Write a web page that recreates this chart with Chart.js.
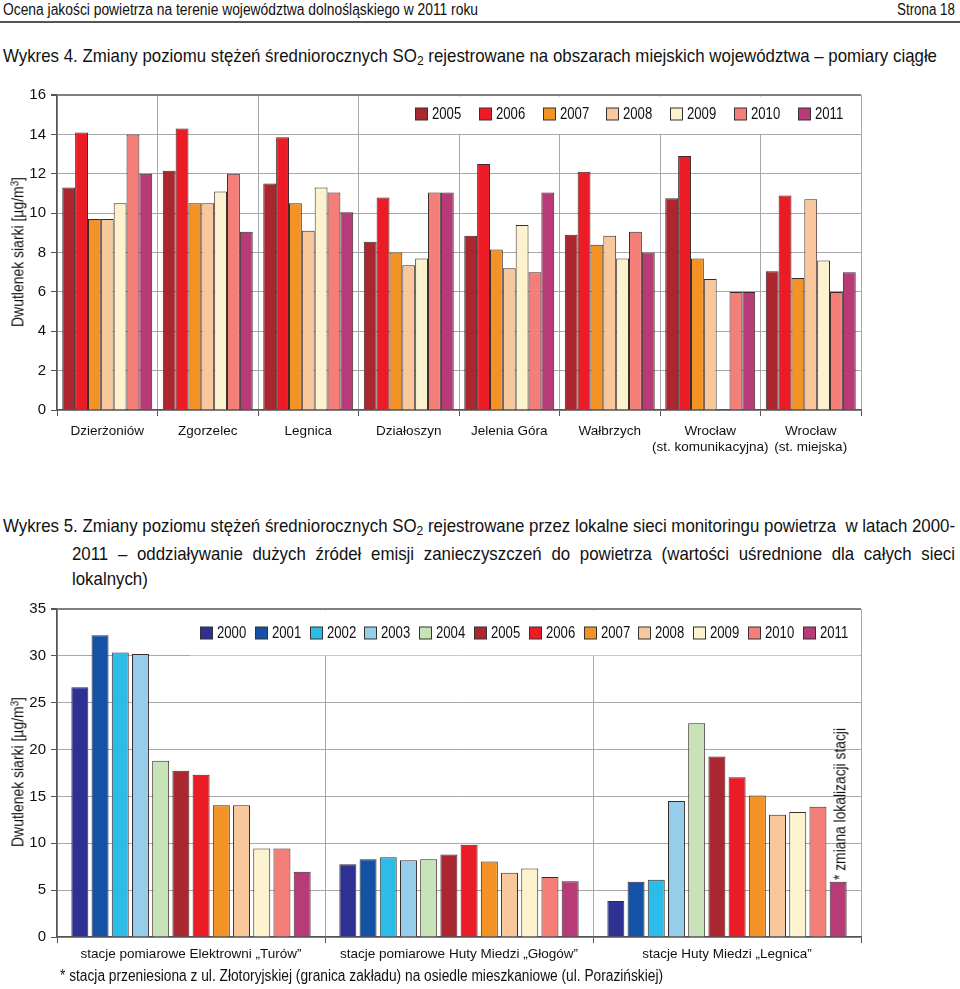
<!DOCTYPE html>
<html><head><meta charset="utf-8">
<script src="https://cdn.jsdelivr.net/npm/chart.js@4.4.1/dist/chart.umd.min.js"></script>
<style>
body{margin:0;width:960px;height:989px;position:relative;background:#fff;font-family:'Liberation Sans',Arial,sans-serif;color:#111;overflow:hidden}
.abs{position:absolute;white-space:nowrap;line-height:1.2}
.sub{font-size:0.72em;position:relative;top:0.25em}
.sup{font-size:0.7em;position:relative;top:-0.45em}
canvas{display:block}
</style></head><body>
<div class="abs fit" data-w="475" style="left:3px;top:0px;font-size:16px">Ocena jakości powietrza na terenie województwa dolnośląskiego w 2011 roku</div>
<div class="abs fit" data-w="58" style="left:897px;top:0px;font-size:16px">Strona 18</div>
<div class="abs" style="left:0;top:21px;width:960px;height:2px;background:#555"></div>
<div class="abs fit" data-w="934" style="left:3px;top:45px;font-size:19px">Wykres 4. Zmiany poziomu stężeń średniorocznych SO<span class="sub">2</span> rejestrowane na obszarach miejskich województwa – pomiary ciągłe</div>
<div class="abs" style="left:0;top:70px;width:960px;height:400px"><canvas id="c1" width="960" height="400"></canvas></div>
<div class="abs rot" data-w="150" style="left:18px;top:252px;font-size:16px">Dwutlenek siarki [µg/m<span class="sup">3</span>]</div>
<div class="abs" id="t5a" data-w="952" style="left:3px;top:515px;font-size:19px">Wykres 5. Zmiany poziomu stężeń średniorocznych SO<span class="sub">2</span> rejestrowane przez lokalne sieci monitoringu powietrza&nbsp; w latach 2000-</div>
<div class="abs" id="t5b" data-w="883" style="left:72px;top:543px;font-size:19px">2011 – oddziaływanie dużych źródeł emisji zanieczyszczeń do powietrza (wartości uśrednione dla całych sieci</div>
<div class="abs" id="t5c" style="left:72px;top:568px;font-size:19px">lokalnych)</div>
<div class="abs" style="left:0;top:595px;width:960px;height:394px"><canvas id="c2" width="960" height="394"></canvas></div>
<div class="abs rot" data-w="150" style="left:18px;top:772px;font-size:16px">Dwutlenek siarki [µg/m<span class="sup">3</span>]</div>
<div class="abs rot" data-w="152" style="left:840px;top:804px;font-size:16px">* zmiana lokalizacji stacji</div>
<div class="abs fit" data-w="603" style="left:60px;top:966px;font-size:16px">* stacja przeniesiona z ul. Złotoryjskiej (granica zakładu) na osiedle mieszkaniowe (ul. Porazińskiej)</div>
<script>
// ---------- Chart 1 data ----------
const categories1 = ['Dzierżoniów','Zgorzelec','Legnica','Działoszyn','Jelenia Góra','Wałbrzych',['Wrocław','(st. komunikacyjna)'],['Wrocław','(st. miejska)']];
const years1 = ['2005','2006','2007','2008','2009','2010','2011'];
const c1_2005 = [11.3, 12.15, 11.5, 8.55, 8.85, 8.9, 10.75, 7.05];
const c1_2006 = [14.1, 14.3, 13.85, 10.8, 12.5, 12.1, 12.9, 10.9];
const c1_2007 = [9.7, 10.5, 10.5, 8.0, 8.15, 8.4, 7.7, 6.7];
const c1_2008 = [9.7, 10.5, 9.1, 7.35, 7.2, 8.85, 6.65, 10.7];
const c1_2009 = [10.5, 11.1, 11.3, 7.7, 9.4, 7.7, null, 7.6];
const c1_2010 = [14.0, 12.0, 11.05, 11.05, 7.0, 9.05, 6.0, 6.0];
const c1_2011 = [12.0, 9.05, 10.05, 11.05, 11.05, 8.0, 6.0, 7.0];
const yTicks1 = {min:0, max:16, step:2};

// ---------- Chart 2 data ----------
const categories2 = ['stacje pomiarowe Elektrowni „Turów”','stacje pomiarowe Huty Miedzi „Głogów”','stacje Huty Miedzi „Legnica”'];
const years2 = ['2000','2001','2002','2003','2004','2005','2006','2007','2008','2009','2010','2011'];
const c2_2000 = [26.65, 7.75, 3.85];
const c2_2001 = [32.2, 8.3, 5.9];
const c2_2002 = [30.35, 8.5, 6.1];
const c2_2003 = [30.2, 8.2, 14.5];
const c2_2004 = [18.8, 8.3, 22.8];
const c2_2005 = [17.75, 8.8, 19.25];
const c2_2006 = [17.3, 9.85, 17.05];
const c2_2007 = [14.05, 8.05, 15.1];
const c2_2008 = [14.05, 6.85, 13.05];
const c2_2009 = [9.45, 7.3, 13.35];
const c2_2010 = [9.45, 6.4, 13.9];
const c2_2011 = [6.95, 5.95, 5.9];
const yTicks2 = {min:0, max:35, step:5};

const colorByYear = {
  '2000':'#2E3192','2001':'#1352A5','2002':'#2BBDE8','2003':'#95CDEB','2004':'#C8E3B8',
  '2005':'#AC2630','2006':'#EB1C26','2007':'#F39325','2008':'#F8C89C','2009':'#FCF2CE',
  '2010':'#F37F78','2011':'#B73B77'
};

// ---------- text fitting (narrow-font emulation) ----------
const NARROW = 0.82;
function setScale(el, k){ el.style.transformOrigin = '0 0'; el.style.transform = `scaleX(${k})`; }
document.querySelectorAll('.fit').forEach(el => {
  const w = el.getBoundingClientRect().width;
  setScale(el, +el.dataset.w / w);
});
// chart 5 title: first line fitted, following lines same squeeze, line 2 justified
const t5a = document.getElementById('t5a'), t5b = document.getElementById('t5b'), t5c = document.getElementById('t5c');
const k5 = +t5a.dataset.w / t5a.getBoundingClientRect().width;
setScale(t5a, k5);
t5b.style.whiteSpace = 'normal';
t5b.style.width = (+t5b.dataset.w / k5) + 'px';
t5b.style.textAlign = 'justify';
t5b.style.textAlignLast = 'justify';
setScale(t5b, k5);
setScale(t5c, k5);
document.querySelectorAll('.rot').forEach(el => {
  const w = el.getBoundingClientRect().width, t = +el.dataset.w;
  el.style.transform = `translate(-50%,-50%) rotate(-90deg) scaleX(${t / w})`;
});

const FONT = "'Liberation Sans', Arial, sans-serif";
Chart.defaults.font.family = FONT;
Chart.defaults.color = '#111';

const boxLegend = {
  id:'boxLegend',
  beforeDatasetsDraw(chart, args, o){
    if(!o || o.x0 === undefined) return;
    const ctx = chart.ctx, ca = chart.chartArea, ys = chart.scales.y;
    const yb = ys.getPixelForValue(o.downTo);
    ctx.save();
    ctx.fillStyle = '#fff';
    ctx.fillRect(o.x1, ca.top + 1.5, ca.right - 1 - o.x1, yb - ca.top - 2);
    ctx.font = '16px ' + FONT;
    ctx.textBaseline = 'middle';
    ctx.textAlign = 'left';
    chart.data.datasets.forEach((ds, i) => {
      const x = Math.round(o.x0 + i * o.dx);
      ctx.fillStyle = ds.backgroundColor;
      ctx.fillRect(x + 0.5, o.y - 6, 12, 12);
      ctx.strokeStyle = '#333';
      ctx.lineWidth = 1;
      ctx.strokeRect(x + 0.5, o.y - 6, 12, 12);
      ctx.fillStyle = '#111';
      ctx.save();
      ctx.translate(x + 17, o.y + 1);
      ctx.scale(NARROW, 1);
      ctx.fillText(ds.label, 0, 0);
      ctx.restore();
    });
    ctx.restore();
  }
};

function makeDatasets(years, arrays){
  return years.map((y, i) => ({
    label: y, data: arrays[i], backgroundColor: colorByYear[y],
    borderColor: '#3a2a2a', borderWidth: 1, borderSkipped: 'start'
  }));
}

function makeOptions(t, cfg){
  return {
    responsive:false, animation:false,
    layout:{padding:{top:cfg.padTop, right:99, left:0, bottom:0}},
    plugins:{legend:{display:false}, tooltip:{enabled:false}, boxLegend:cfg.legend},
    datasets:{bar:{categoryPercentage:cfg.catPct, barPercentage:cfg.barPct}},
    scales:{
      x:{
        grid:{offset:true, color:'#a8a8a8', lineWidth:1, tickLength:6, tickColor:'#555', drawOnChartArea:true},
        border:{color:'#555', width:1.5},
        ticks:{font:{size:13.5}, color:'#111', padding:cfg.xPad, maxRotation:0, autoSkip:false},
        afterFit(s){ s.height = cfg.xHeight; }
      },
      y:{
        min:t.min, max:t.max,
        grid:{color:(c)=> c.tick && c.tick.value === t.max ? '#808080' : '#a8a8a8',
              lineWidth:(c)=> c.tick && c.tick.value === t.max ? 2 : 1,
              tickLength:6, tickColor:'#555'},
        border:{color:'#555', width:1.5},
        ticks:{stepSize:t.step, font:{size:15}, color:'#111', padding:5},
        title:{display:false},
        afterFit(s){ s.width = 57; }
      }
    }
  };
}

new Chart(document.getElementById('c1'), {
  type:'bar',
  data:{labels:categories1, datasets:makeDatasets(years1,[c1_2005,c1_2006,c1_2007,c1_2008,c1_2009,c1_2010,c1_2011])},
  options:makeOptions(yTicks1, {padTop:25, xHeight:60, xPad:7, catPct:0.895, barPct:1.0,
    legend:{x1:361, downTo:14, x0:415, dx:63.8, y:44}}),
  plugins:[boxLegend]
});

new Chart(document.getElementById('c2'), {
  type:'bar',
  data:{labels:categories2, datasets:makeDatasets(years2,[c2_2000,c2_2001,c2_2002,c2_2003,c2_2004,c2_2005,c2_2006,c2_2007,c2_2008,c2_2009,c2_2010,c2_2011])},
  options:makeOptions(yTicks2, {padTop:12, xHeight:52, xPad:3, catPct:0.905, barPct:0.84,
    legend:{x1:190, downTo:30, x0:200, dx:54.8, y:38}}),
  plugins:[boxLegend]
});
</script>
</body></html>
